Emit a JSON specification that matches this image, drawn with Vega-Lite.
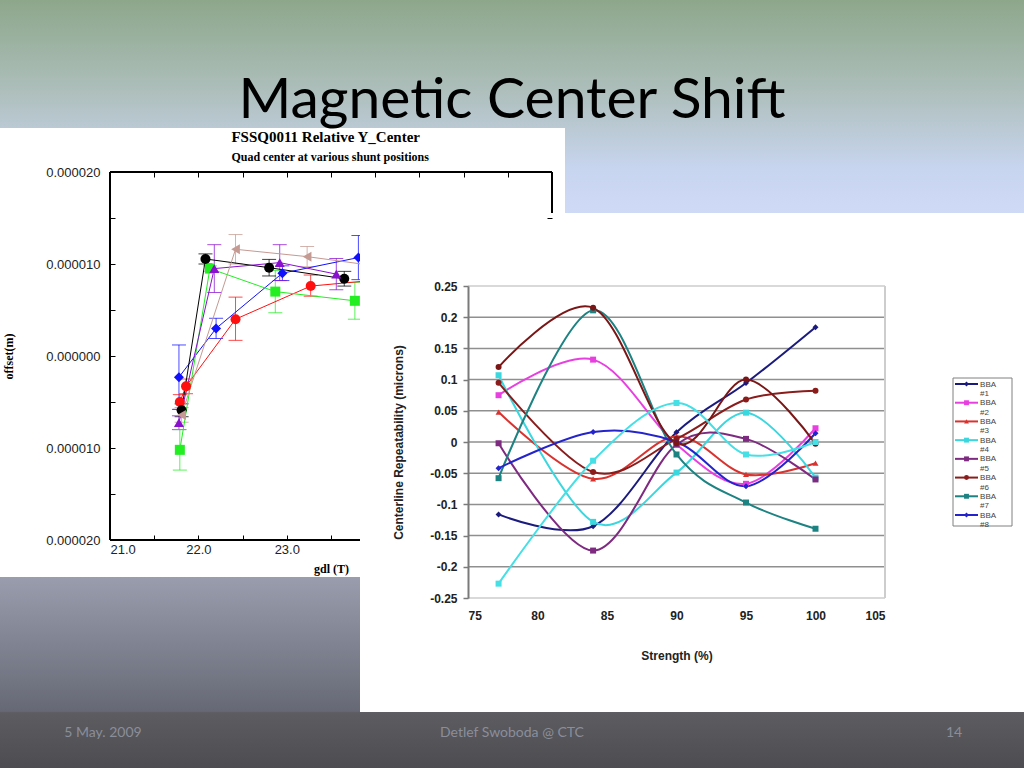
{
  "$schema": "https://vega.github.io/schema/vega-lite/v6.json",
  "width": 1024,
  "height": 768,
  "autosize": {"type": "none"},
  "padding": 0,
  "background": "#cfd9f6",
  "title": {
    "text": "Magnetic Center Shift",
    "font": "Lato",
    "fontSize": 57,
    "fontWeight": "normal",
    "color": "#000000",
    "anchor": "middle",
    "frame": "group",
    "offset": -130
  },
  "config": {"view": {"stroke": null}},
  "datasets": {
    "left": [
      {"s": "blue", "gdl": 21.78, "off": -2.3e-6, "lo": -5.8e-6, "hi": 1.2e-6},
      {"s": "blue", "gdl": 22.20, "off": 3.0e-6, "lo": 1.9e-6, "hi": 4.1e-6},
      {"s": "blue", "gdl": 22.95, "off": 9.0e-6, "lo": 8.2e-6, "hi": 9.8e-6},
      {"s": "blue", "gdl": 23.81, "off": 10.7e-6, "lo": 8.3e-6, "hi": 13.1e-6},
      {"s": "red", "gdl": 21.79, "off": -5.0e-6, "lo": -5.8e-6, "hi": -4.2e-6},
      {"s": "red", "gdl": 21.86, "off": -3.3e-6, "lo": -4.1e-6, "hi": -2.5e-6},
      {"s": "red", "gdl": 22.42, "off": 4.0e-6, "lo": 1.7e-6, "hi": 6.4e-6},
      {"s": "red", "gdl": 23.27, "off": 7.6e-6, "lo": 6.5e-6, "hi": 8.8e-6},
      {"s": "red", "gdl": 23.95, "off": 8.2e-6, "lo": 7.4e-6, "hi": 9.0e-6},
      {"s": "green", "gdl": 21.79, "off": -10.2e-6, "lo": -12.4e-6, "hi": -8.0e-6},
      {"s": "green", "gdl": 22.13, "off": 9.5e-6, "lo": 9.2e-6, "hi": 9.8e-6},
      {"s": "green", "gdl": 22.87, "off": 7.0e-6, "lo": 4.7e-6, "hi": 9.3e-6},
      {"s": "green", "gdl": 23.77, "off": 6.0e-6, "lo": 4.0e-6, "hi": 8.0e-6},
      {"s": "black", "gdl": 21.81, "off": -5.9e-6, "lo": -6.6e-6, "hi": -5.2e-6},
      {"s": "black", "gdl": 22.08, "off": 10.55e-6, "lo": 10.0e-6, "hi": 11.1e-6},
      {"s": "black", "gdl": 22.80, "off": 9.6e-6, "lo": 8.7e-6, "hi": 10.5e-6},
      {"s": "black", "gdl": 23.65, "off": 8.4e-6, "lo": 7.6e-6, "hi": 9.2e-6},
      {"s": "purple", "gdl": 21.78, "off": -7.25e-6, "lo": -8.0e-6, "hi": -6.5e-6},
      {"s": "purple", "gdl": 22.18, "off": 9.5e-6, "lo": 6.9e-6, "hi": 12.1e-6},
      {"s": "purple", "gdl": 22.92, "off": 10.15e-6, "lo": 8.2e-6, "hi": 12.1e-6},
      {"s": "purple", "gdl": 23.56, "off": 8.9e-6, "lo": 7.2e-6, "hi": 10.6e-6},
      {"s": "tan", "gdl": 21.81, "off": -6.4e-6, "lo": -7.2e-6, "hi": -5.6e-6},
      {"s": "tan", "gdl": 22.42, "off": 11.6e-6, "lo": 10.0e-6, "hi": 13.2e-6},
      {"s": "tan", "gdl": 23.23, "off": 10.8e-6, "lo": 9.7e-6, "hi": 11.9e-6},
      {"s": "tan", "gdl": 24.00, "off": 9.8e-6, "lo": 8.8e-6, "hi": 10.8e-6}
    ],
    "right": [
      {"bba": "BBA #1", "strength": 77.2, "rep": -0.116},
      {"bba": "BBA #1", "strength": 84, "rep": -0.135},
      {"bba": "BBA #1", "strength": 90, "rep": 0.0155},
      {"bba": "BBA #1", "strength": 95, "rep": 0.0945},
      {"bba": "BBA #1", "strength": 100, "rep": 0.184},
      {"bba": "BBA #2", "strength": 77.2, "rep": 0.075},
      {"bba": "BBA #2", "strength": 84, "rep": 0.132},
      {"bba": "BBA #2", "strength": 90, "rep": -0.004},
      {"bba": "BBA #2", "strength": 95, "rep": -0.067},
      {"bba": "BBA #2", "strength": 100, "rep": 0.022},
      {"bba": "BBA #3", "strength": 77.2, "rep": 0.048},
      {"bba": "BBA #3", "strength": 84, "rep": -0.059},
      {"bba": "BBA #3", "strength": 90, "rep": 0.009},
      {"bba": "BBA #3", "strength": 95, "rep": -0.052},
      {"bba": "BBA #3", "strength": 100, "rep": -0.034},
      {"bba": "BBA #4", "strength": 77.2, "rep": 0.107},
      {"bba": "BBA #4", "strength": 84, "rep": -0.128},
      {"bba": "BBA #4", "strength": 90, "rep": -0.049},
      {"bba": "BBA #4", "strength": 95, "rep": 0.047},
      {"bba": "BBA #4", "strength": 100, "rep": -0.057},
      {"bba": "BBA #5", "strength": 77.2, "rep": -0.002},
      {"bba": "BBA #5", "strength": 84, "rep": -0.174},
      {"bba": "BBA #5", "strength": 90, "rep": -0.004},
      {"bba": "BBA #5", "strength": 95, "rep": 0.005},
      {"bba": "BBA #5", "strength": 100, "rep": -0.060},
      {"bba": "BBA #6", "strength": 77.2, "rep": 0.095},
      {"bba": "BBA #6", "strength": 84, "rep": -0.048},
      {"bba": "BBA #6", "strength": 90, "rep": 0.005},
      {"bba": "BBA #6", "strength": 95, "rep": 0.068},
      {"bba": "BBA #6", "strength": 100, "rep": 0.082},
      {"bba": "BBA #7", "strength": 77.2, "rep": -0.058},
      {"bba": "BBA #7", "strength": 84, "rep": 0.211},
      {"bba": "BBA #7", "strength": 90, "rep": -0.020},
      {"bba": "BBA #7", "strength": 95, "rep": -0.097},
      {"bba": "BBA #7", "strength": 100, "rep": -0.139},
      {"bba": "BBA #8", "strength": 77.2, "rep": -0.042},
      {"bba": "BBA #8", "strength": 84, "rep": 0.016},
      {"bba": "BBA #8", "strength": 90, "rep": 0.000},
      {"bba": "BBA #8", "strength": 95, "rep": -0.071},
      {"bba": "BBA #8", "strength": 100, "rep": 0.014},
      {"bba": "BBA #9", "strength": 77.2, "rep": 0.120},
      {"bba": "BBA #9", "strength": 84, "rep": 0.215},
      {"bba": "BBA #9", "strength": 90, "rep": -0.002},
      {"bba": "BBA #9", "strength": 95, "rep": 0.100},
      {"bba": "BBA #9", "strength": 100, "rep": -0.003},
      {"bba": "BBA #10", "strength": 77.2, "rep": -0.227},
      {"bba": "BBA #10", "strength": 84, "rep": -0.030},
      {"bba": "BBA #10", "strength": 90, "rep": 0.0625},
      {"bba": "BBA #10", "strength": 95, "rep": -0.020},
      {"bba": "BBA #10", "strength": 100, "rep": 0.000}
    ],
    "grid": [
      {"v": -0.25}, {"v": -0.2}, {"v": -0.15}, {"v": -0.1}, {"v": -0.05}, {"v": 0},
      {"v": 0.05}, {"v": 0.1}, {"v": 0.15}, {"v": 0.2}, {"v": 0.25}
    ],
    "footer": [
      {"text": "5 May. 2009", "slot": "date"},
      {"text": "Detlef Swoboda @ CTC", "slot": "author"},
      {"text": "14", "slot": "page"}
    ]
  },
  "resolve": {
    "scale": {"x": "independent", "y": "independent", "color": "independent", "shape": "independent"},
    "axis": {"x": "independent", "y": "independent"},
    "legend": {"color": "independent", "shape": "independent"}
  },
  "layer": [
    {
      "data": {"values": [{}]},
      "mark": {
        "type": "rect",
        "color": {
          "gradient": "linear",
          "x1": 0, "y1": 0, "x2": 0, "y2": 1,
          "stops": [
            {"offset": 0, "color": "#8da78b"},
            {"offset": 0.12, "color": "#aebfbc"},
            {"offset": 0.22, "color": "#c8d5ef"},
            {"offset": 0.28, "color": "#cfdaf7"},
            {"offset": 0.749, "color": "#cfdaf7"},
            {"offset": 0.751, "color": "#9a9dad"},
            {"offset": 0.926, "color": "#666975"},
            {"offset": 0.928, "color": "#5c5c61"},
            {"offset": 1, "color": "#4d4d51"}
          ]
        }
      },
      "encoding": {}
    },
    {
      "data": {"name": "left"},
      "layer": [
        {
          "mark": {"type": "rect", "color": "#ffffff"},
          "encoding": {
            "x": {
              "datum": 19.756,
              "type": "quantitative",
              "scale": {"domain": [21, 26], "range": [110, 552], "nice": false, "zero": false},
              "axis": {
                "orient": "bottom",
                "offset": -228,
                "zindex": 1,
                "title": "gdl (T)",
                "titleFont": "Liberation Serif",
                "titleFontSize": 12,
                "titleFontWeight": "bold",
                "titleColor": "#000000",
                "titlePadding": 7,
                "values": [21, 21.5, 22, 22.5, 23, 23.5],
                "labelExpr": "datum.value % 1 === 0 ? format(datum.value, '.1f') : ''",
                "labelFont": "Liberation Sans",
                "labelFontSize": 13,
                "labelColor": "#222222",
                "labelPadding": 8,
                "tickSize": -5,
                "tickColor": "#000000",
                "domain": false,
                "grid": false
              }
            },
            "x2": {"datum": 26.147},
            "y": {
              "datum": 2.478e-5,
              "type": "quantitative",
              "scale": {"domain": [-2e-5, 2e-5], "range": [540, 172], "nice": false, "zero": false},
              "axis": {
                "orient": "left",
                "offset": -110,
                "zindex": 1,
                "title": "offset(m)",
                "titleFont": "Liberation Serif",
                "titleFontSize": 12,
                "titleFontWeight": "bold",
                "titleColor": "#000000",
                "titlePadding": 30,
                "values": [-2e-5, -1.5e-5, -1e-5, -0.5e-5, 0, 0.5e-5, 1e-5, 1.5e-5, 2e-5],
                "labelExpr": "round(datum.value * 2e5) % 2 === 0 ? format(abs(datum.value), '.6f') : ''",
                "labelFont": "Liberation Sans",
                "labelFontSize": 13,
                "labelColor": "#222222",
                "labelPadding": 15,
                "tickSize": -5,
                "tickColor": "#000000",
                "domain": false,
                "grid": false
              }
            },
            "y2": {"datum": -2.402e-5}
          }
        },
        {
          "mark": {"type": "rect", "fillOpacity": 0, "stroke": "#000000", "strokeWidth": 1},
          "encoding": {
            "x": {"datum": 21, "type": "quantitative"},
            "x2": {"datum": 26},
            "y": {"datum": -2e-5, "type": "quantitative"},
            "y2": {"datum": 2e-5}
          }
        },
        {
          "mark": {"type": "rule", "strokeWidth": 1, "opacity": 0.75},
          "encoding": {
            "x": {"field": "gdl", "type": "quantitative"},
            "y": {"field": "lo", "type": "quantitative"},
            "y2": {"field": "hi"},
            "color": {
              "field": "s",
              "type": "nominal",
              "scale": {
                "domain": ["blue", "red", "green", "black", "purple", "tan"],
                "range": ["#1010ff", "#ff1010", "#22ee22", "#000000", "#8a10d0", "#c49a92"]
              },
              "legend": null
            }
          }
        },
        {
          "mark": {"type": "tick", "orient": "horizontal", "size": 14, "thickness": 1, "opacity": 0.75},
          "encoding": {
            "x": {"field": "gdl", "type": "quantitative"},
            "y": {"field": "lo", "type": "quantitative"},
            "color": {"field": "s", "type": "nominal", "legend": null}
          }
        },
        {
          "mark": {"type": "tick", "orient": "horizontal", "size": 14, "thickness": 1, "opacity": 0.75},
          "encoding": {
            "x": {"field": "gdl", "type": "quantitative"},
            "y": {"field": "hi", "type": "quantitative"},
            "color": {"field": "s", "type": "nominal", "legend": null}
          }
        },
        {
          "mark": {"type": "line", "strokeWidth": 1},
          "encoding": {
            "x": {"field": "gdl", "type": "quantitative"},
            "y": {"field": "off", "type": "quantitative"},
            "color": {"field": "s", "type": "nominal", "legend": null}
          }
        },
        {
          "mark": {"type": "point", "filled": true, "size": 100, "opacity": 1},
          "encoding": {
            "x": {"field": "gdl", "type": "quantitative"},
            "y": {"field": "off", "type": "quantitative"},
            "color": {"field": "s", "type": "nominal", "legend": null},
            "shape": {
              "field": "s",
              "type": "nominal",
              "scale": {
                "domain": ["blue", "red", "green", "black", "purple", "tan"],
                "range": ["diamond", "circle", "square", "circle", "triangle-up", "triangle-left"]
              },
              "legend": null
            }
          }
        },
        {
          "data": {"values": [{"t": "FSSQ0011 Relative Y_Center"}]},
          "mark": {"type": "text", "font": "Liberation Serif", "fontSize": 15, "fontWeight": "bold", "color": "#000000", "baseline": "middle"},
          "encoding": {
            "x": {"datum": 23.44, "type": "quantitative"},
            "y": {"datum": 2.38e-5, "type": "quantitative"},
            "text": {"field": "t"}
          }
        },
        {
          "data": {"values": [{"t": "Quad center at various shunt positions"}]},
          "mark": {"type": "text", "font": "Liberation Serif", "fontSize": 12, "fontWeight": "bold", "color": "#000000", "baseline": "middle"},
          "encoding": {
            "x": {"datum": 23.49, "type": "quantitative"},
            "y": {"datum": 2.163e-5, "type": "quantitative"},
            "text": {"field": "t"}
          }
        }
      ]
    },
    {
      "data": {"values": [{}]},
      "mark": {"type": "point", "opacity": 0},
      "encoding": {
        "x": {
          "datum": 21,
          "type": "quantitative",
          "scale": {"domain": [21, 26], "range": [110, 552], "nice": false, "zero": false},
          "axis": {
            "orient": "top",
            "offset": -172,
            "zindex": 1,
            "title": null,
            "values": [21.5, 22, 22.5, 23, 23.5, 24, 24.5, 25, 25.5],
            "labels": false,
            "tickSize": -5,
            "tickColor": "#000000",
            "domain": false,
            "grid": false
          }
        },
        "y": {
          "datum": 2e-5,
          "type": "quantitative",
          "scale": {"domain": [-2e-5, 2e-5], "range": [540, 172], "nice": false, "zero": false},
          "axis": {
            "orient": "right",
            "offset": -472,
            "zindex": 1,
            "title": null,
            "values": [1.5e-5],
            "labels": false,
            "tickSize": -5,
            "tickColor": "#000000",
            "domain": false,
            "grid": false
          }
        }
      }
    },
    {
      "data": {"name": "right"},
      "layer": [
        {
          "mark": {"type": "rect", "color": "#ffffff"},
          "encoding": {
            "x": {
              "datum": 67.23,
              "type": "quantitative",
              "scale": {"domain": [75, 105], "range": [468, 885], "nice": false, "zero": false},
              "axis": {
                "orient": "bottom",
                "offset": -170,
                "zindex": 1,
                "title": "Strength (%)",
                "titleFont": "Liberation Sans",
                "titleFontSize": 12,
                "titleFontWeight": "bold",
                "titleColor": "#222222",
                "titlePadding": 29,
                "values": [75, 80, 85, 90, 95, 100, 105],
                "format": "d",
                "labelFont": "Liberation Sans",
                "labelFontSize": 12,
                "labelFontWeight": "bold",
                "labelColor": "#222222",
                "labelPadding": 12,
                "ticks": false,
                "domain": false,
                "grid": false
              }
            },
            "x2": {"datum": 115.0},
            "y": {
              "datum": 0.367,
              "type": "quantitative",
              "scale": {"domain": [-0.25, 0.25], "range": [598, 286], "nice": false, "zero": false},
              "axis": {
                "orient": "left",
                "offset": -468,
                "zindex": 1,
                "title": "Centerline Repeatability (microns)",
                "titleFont": "Liberation Sans",
                "titleFontSize": 12,
                "titleFontWeight": "bold",
                "titleColor": "#222222",
                "titlePadding": 24,
                "values": [-0.25, -0.2, -0.15, -0.1, -0.05, 0, 0.05, 0.1, 0.15, 0.2, 0.25],
                "labelExpr": "(datum.value < 0 ? '-' : '') + format(abs(datum.value), '~g')",
                "labelFont": "Liberation Sans",
                "labelFontSize": 12,
                "labelFontWeight": "bold",
                "labelColor": "#222222",
                "labelPadding": 6,
                "tickSize": 5,
                "tickColor": "#7a7a7a",
                "tickWidth": 1.5,
                "domainColor": "#7a7a7a",
                "domainWidth": 2,
                "grid": false
              }
            },
            "y2": {"datum": -0.4327}
          }
        },
        {
          "data": {"name": "grid"},
          "mark": {"type": "rule", "strokeWidth": 1.5},
          "encoding": {
            "x": {"datum": 75, "type": "quantitative"},
            "x2": {"datum": 105},
            "y": {"field": "v", "type": "quantitative"},
            "color": {"condition": {"test": "abs(datum.v) > 0.24", "value": "#cccccc"}, "value": "#8f8f8f"}
          }
        },
        {
          "mark": {"type": "rule", "color": "#cccccc", "strokeWidth": 1.5},
          "encoding": {
            "x": {"datum": 105, "type": "quantitative"},
            "y": {"datum": -0.25, "type": "quantitative"},
            "y2": {"datum": 0.25}
          }
        },
        {
          "mark": {"type": "line", "interpolate": "cardinal", "strokeWidth": 2},
          "encoding": {
            "x": {"field": "strength", "type": "quantitative"},
            "y": {"field": "rep", "type": "quantitative"},
            "color": {
              "field": "bba",
              "type": "nominal",
              "scale": {
                "domain": ["BBA #1", "BBA #2", "BBA #3", "BBA #4", "BBA #5", "BBA #6", "BBA #7", "BBA #8", "BBA #9", "BBA #10"],
                "range": ["#1b1b7e", "#e83fe0", "#d8332f", "#3ad7df", "#7d2a80", "#8a1c1c", "#1d8282", "#2424cc", "#7a1616", "#45dfe6"]
              },
              "legend": null
            }
          }
        },
        {
          "mark": {"type": "point", "filled": true, "size": 36, "opacity": 1},
          "encoding": {
            "x": {"field": "strength", "type": "quantitative"},
            "y": {"field": "rep", "type": "quantitative"},
            "color": {"field": "bba", "type": "nominal", "legend": null},
            "shape": {
              "field": "bba",
              "type": "nominal",
              "scale": {
                "domain": ["BBA #1", "BBA #2", "BBA #3", "BBA #4", "BBA #5", "BBA #6", "BBA #7", "BBA #8", "BBA #9", "BBA #10"],
                "range": ["diamond", "square", "triangle-up", "square", "square", "circle", "square", "diamond", "circle", "square"]
              },
              "legend": null
            }
          }
        }
      ]
    },
    {
      "data": {"values": [{}]},
      "mark": {"type": "rect", "fill": "#ffffff", "stroke": "#808080", "strokeWidth": 1},
      "encoding": {
        "x": {"datum": 0, "type": "quantitative", "scale": {"domain": [0, 1], "range": [953, 1012]}, "axis": null},
        "x2": {"datum": 1},
        "y": {"datum": 0, "type": "quantitative", "scale": {"domain": [0, 1], "range": [378, 526]}, "axis": null},
        "y2": {"datum": 1}
      }
    },
    {
      "data": {"name": "right"},
      "transform": [{"filter": "datum.strength === 77.2 && datum.bba !== 'BBA #9' && datum.bba !== 'BBA #10'"}],
      "layer": [
        {
          "mark": {"type": "rule", "strokeWidth": 2},
          "encoding": {
            "x": {"datum": 0, "type": "quantitative", "scale": {"domain": [0, 1], "range": [955, 978]}, "axis": null},
            "x2": {"datum": 1},
            "y": {
              "field": "bba",
              "type": "nominal",
              "scale": {"type": "point", "domain": ["BBA #1", "BBA #2", "BBA #3", "BBA #4", "BBA #5", "BBA #6", "BBA #7", "BBA #8"], "range": [384, 515], "padding": 0},
              "axis": null
            },
            "color": {
              "field": "bba",
              "type": "nominal",
              "scale": {
                "domain": ["BBA #1", "BBA #2", "BBA #3", "BBA #4", "BBA #5", "BBA #6", "BBA #7", "BBA #8"],
                "range": ["#1b1b7e", "#e83fe0", "#d8332f", "#3ad7df", "#7d2a80", "#8a1c1c", "#1d8282", "#2424cc"]
              },
              "legend": null
            }
          }
        },
        {
          "mark": {"type": "point", "filled": true, "size": 24, "opacity": 1},
          "encoding": {
            "x": {"datum": 0.5, "type": "quantitative"},
            "y": {"field": "bba", "type": "nominal"},
            "color": {"field": "bba", "type": "nominal", "legend": null},
            "shape": {
              "field": "bba",
              "type": "nominal",
              "scale": {
                "domain": ["BBA #1", "BBA #2", "BBA #3", "BBA #4", "BBA #5", "BBA #6", "BBA #7", "BBA #8"],
                "range": ["diamond", "square", "triangle-up", "square", "square", "circle", "square", "diamond"]
              },
              "legend": null
            }
          }
        },
        {
          "mark": {
            "type": "text",
            "align": "left",
            "baseline": "top",
            "dy": -3.5,
            "lineBreak": " ",
            "lineHeight": 9.5,
            "font": "Liberation Sans",
            "fontSize": 8,
            "color": "#444444"
          },
          "encoding": {
            "x": {"datum": 1.09, "type": "quantitative"},
            "y": {"field": "bba", "type": "nominal"},
            "text": {"field": "bba"}
          }
        }
      ]
    },
    {
      "data": {"name": "footer"},
      "transform": [{"filter": "datum.slot !== 'author'"}],
      "mark": {"type": "text", "font": "Lato", "fontSize": 14, "color": "#8b8e9a", "baseline": "middle"},
      "encoding": {
        "x": {
          "field": "slot",
          "type": "nominal",
          "scale": {"type": "point", "domain": ["date", "page"], "range": [103, 954], "padding": 0},
          "axis": null
        },
        "y": {
          "datum": "footer",
          "type": "nominal",
          "scale": {"type": "point", "domain": ["footer"], "range": [733, 733]},
          "axis": null
        },
        "text": {"field": "text"}
      }
    },
    {
      "data": {"name": "footer"},
      "transform": [{"filter": "datum.slot === 'author'"}],
      "mark": {"type": "text", "font": "Lato", "fontSize": 14, "color": "#8b8e9a", "baseline": "middle"},
      "encoding": {
        "x": {
          "field": "slot",
          "type": "nominal",
          "scale": {"type": "point", "domain": ["author"], "range": [512, 512]},
          "axis": null
        },
        "y": {
          "datum": "footer",
          "type": "nominal",
          "scale": {"type": "point", "domain": ["footer"], "range": [733, 733]},
          "axis": null
        },
        "text": {"field": "text"}
      }
    }
  ]
}
